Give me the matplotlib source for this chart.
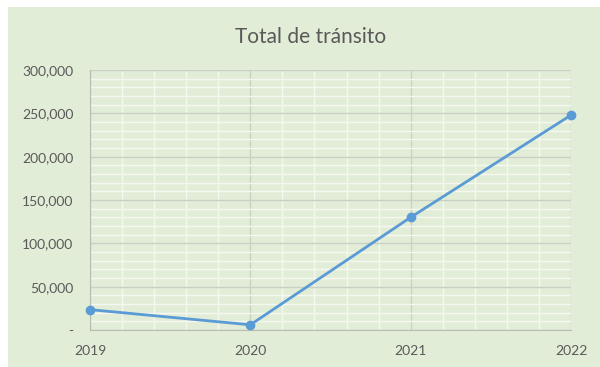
import matplotlib.pyplot as plt
from matplotlib.patches import Rectangle
from matplotlib.ticker import FuncFormatter

years = [2019, 2020, 2021, 2022]
totals = [23500, 6000, 130000, 248000]
y_ticks = [0, 50000, 100000, 150000, 200000, 250000, 300000]

bg = "#e2edd8"
txt = "#595959"
plt.rcParams["font.family"] = ["Lato", "DejaVu Sans"]

fig = plt.figure(figsize=(6, 3.67), dpi=100)
fig.patch.set_facecolor("white")
# green chart area with a thin white margin top/left
fig.patches.append(Rectangle((8 / 600, 0), 1, 1 - 7 / 367, transform=fig.transFigure,
                             facecolor=bg, edgecolor="none", zorder=-1))

ax = fig.add_axes([90 / 600, 1 - 330 / 367, (571 - 90) / 600, (330 - 70) / 367])
ax.set_zorder(2)
ax.set_facecolor(bg)

ax.plot(years, totals, color="#5b9bd5", linewidth=2, marker="o", markersize=6,
        zorder=5, clip_on=False)

ax.set_xlim(2019, 2022)
ax.set_ylim(0, 300000)
ax.set_xticks(years)
ax.set_yticks(y_ticks)
# minor grid: 5 steps per year, 10,000 steps on y (skip the major positions)
x_minor = [y + k / 5 for y in years[:-1] for k in range(1, 5)]
y_minor = [v for v in range(0, 300001, 10000) if v % 50000]
ax.set_xticks(x_minor, minor=True)
ax.set_yticks(y_minor, minor=True)
ax.yaxis.set_major_formatter(FuncFormatter(lambda v, p: "-" if v == 0 else f"{int(v):,}"))

ax.grid(which="minor", color="#f4f8f0", linewidth=1)
ax.grid(which="major", color="#c9d0c4", linewidth=1)
ax.set_axisbelow(True)

for s in ["top", "right"]:
    ax.spines[s].set_visible(False)
for s in ["left", "bottom"]:
    ax.spines[s].set_color("#b8bdb4")

ax.tick_params(which="both", length=0, colors=txt, labelsize=10)
ax.tick_params(axis="y", pad=12)
ax.tick_params(axis="x", pad=11)

fig.text(0.518, 1 - 37 / 367, "Total de tránsito", ha="center", va="center",
         fontsize=15, color=txt)

fig.savefig("out.png", dpi=100)
